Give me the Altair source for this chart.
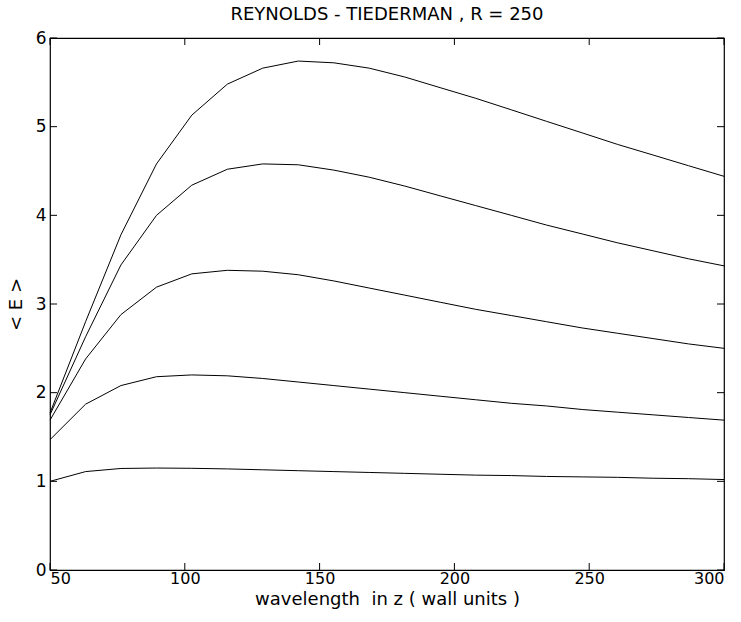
import altair as alt
import pandas as pd

# wavelength grid (20 points, 50..300)
wavelength = [50.0, 63.2, 76.3, 89.5, 102.6, 115.8, 128.9, 142.1, 155.3, 168.4,
              181.6, 194.7, 207.9, 221.1, 234.2, 247.4, 260.5, 273.7, 286.8, 300.0]

curve1 = [1.00, 1.11, 1.145, 1.15, 1.147, 1.14, 1.13, 1.12, 1.11, 1.10,
          1.09, 1.08, 1.07, 1.065, 1.055, 1.05, 1.045, 1.035, 1.03, 1.02]
curve2 = [1.47, 1.87, 2.08, 2.18, 2.20, 2.19, 2.16, 2.12, 2.08, 2.04,
          2.00, 1.96, 1.92, 1.88, 1.85, 1.81, 1.78, 1.75, 1.72, 1.69]
curve3 = [1.69, 2.38, 2.88, 3.19, 3.34, 3.38, 3.37, 3.33, 3.26, 3.18,
          3.10, 3.02, 2.94, 2.87, 2.80, 2.73, 2.67, 2.61, 2.55, 2.50]
curve4 = [1.75, 2.63, 3.44, 4.00, 4.34, 4.52, 4.58, 4.57, 4.51, 4.43,
          4.33, 4.22, 4.11, 4.00, 3.89, 3.79, 3.69, 3.60, 3.51, 3.43]
curve5 = [1.77, 2.80, 3.78, 4.58, 5.13, 5.48, 5.66, 5.74, 5.72, 5.66,
          5.56, 5.44, 5.32, 5.19, 5.06, 4.93, 4.80, 4.68, 4.56, 4.44]

x_ticks = [50, 100, 150, 200, 250, 300]
y_ticks = [0, 1, 2, 3, 4, 5, 6]

W, H = 674, 532
FONT = "DejaVu Sans"

rows = []
for name, vals in [("c1", curve1), ("c2", curve2), ("c3", curve3), ("c4", curve4), ("c5", curve5)]:
    for xv, yv in zip(wavelength, vals):
        rows.append({"series": name, "x": xv, "y": yv})
df = pd.DataFrame(rows)

xscale = alt.Scale(domain=[50, 300], nice=False, zero=False)
yscale = alt.Scale(domain=[0, 6], nice=False)

xaxis = alt.Axis(values=x_ticks, format="d", ticks=False, domain=False, grid=False,
                 labelFontSize=16, labelPadding=0, labelColor="black",
                 title="wavelength\u00a0 in z ( wall units )", titleFontSize=18,
                 titleFontWeight="normal", titleColor="black", titlePadding=4,
                 labelFont=FONT, titleFont=FONT)
yaxis = alt.Axis(values=y_ticks, format="d", ticks=False, domain=False, grid=False,
                 labelFontSize=17, labelPadding=4, labelColor="black",
                 title="< E >", titleFontSize=18, titleFontWeight="normal",
                 titleColor="black", titlePadding=10, labelFont=FONT, titleFont=FONT)

lines = alt.Chart(df).mark_line(color="black", strokeWidth=1).encode(
    x=alt.X("x:Q", scale=xscale, axis=xaxis),
    y=alt.Y("y:Q", scale=yscale, axis=yaxis),
    detail="series:N",
)

xt = pd.DataFrame({"v": x_ticks})
yt = pd.DataFrame({"v": y_ticks})
TL = 7
bottom_ticks = alt.Chart(xt).mark_rule(color="black", strokeWidth=1).encode(
    x=alt.X("v:Q", scale=xscale), y=alt.value(H), y2=alt.value(H - TL))
top_ticks = alt.Chart(xt).mark_rule(color="black", strokeWidth=1).encode(
    x=alt.X("v:Q", scale=xscale), y=alt.value(0), y2=alt.value(TL))
left_ticks = alt.Chart(yt).mark_rule(color="black", strokeWidth=1).encode(
    y=alt.Y("v:Q", scale=yscale), x=alt.value(0), x2=alt.value(TL))
right_ticks = alt.Chart(yt).mark_rule(color="black", strokeWidth=1).encode(
    y=alt.Y("v:Q", scale=yscale), x=alt.value(W), x2=alt.value(W - TL))

chart = alt.layer(lines, bottom_ticks, top_ticks, left_ticks, right_ticks).properties(
    width=W, height=H,
    title=alt.TitleParams("REYNOLDS - TIEDERMAN , R = 250", fontSize=18, font=FONT,
                          fontWeight="normal", color="black", offset=5, anchor="middle"),
    autosize=alt.AutoSizeParams(type="none"),
    padding={"left": 50, "top": 38, "right": 17, "bottom": 52},
    background="white",
).configure_view(stroke="black", strokeWidth=1.2)

chart.save("out.html", embed_options={"renderer": "svg", "actions": False})
